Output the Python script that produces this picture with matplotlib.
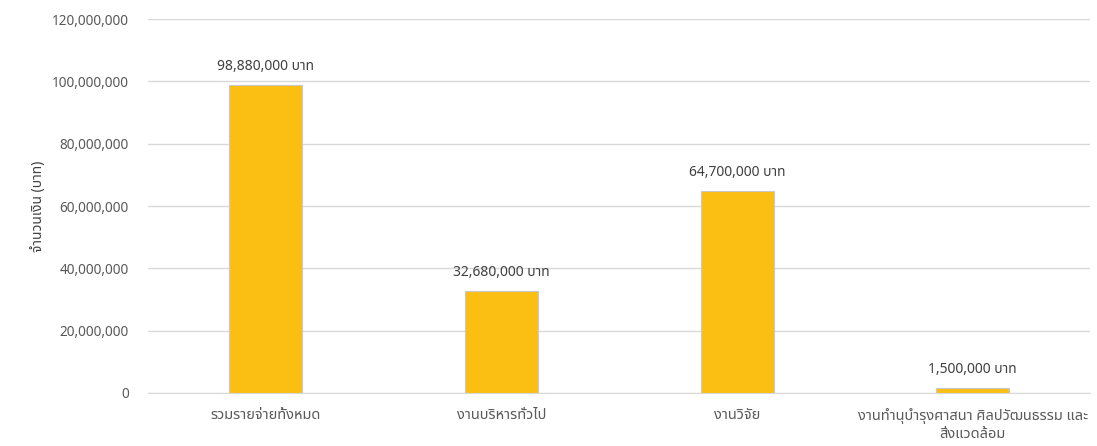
import matplotlib
matplotlib.use("Agg")
import matplotlib.pyplot as plt
from matplotlib import font_manager
from matplotlib.ft2font import FT2Font
from matplotlib.ticker import FuncFormatter

categories = ["รวมรายจ่ายทั้งหมด", "งานบริหารทั่วไป", "งานวิจัย",
              "งานทำนุบำรุงศาสนา ศิลปวัฒนธรรม และ\nสิ่งแวดล้อม"]
amounts = [98880000, 32680000, 64700000, 1500000]
y_ticks = [0, 20000000, 40000000, 60000000, 80000000, 100000000, 120000000]
y_label = "จำนวนเงิน (บาท)"
unit = "บาท"


# หาฟอนต์ที่มีอักษรไทย
def find_thai_font():
    preferred = ["Noto Sans Thai", "Noto Sans Thai UI", "Loma", "Garuda",
                 "Tlwg Typo", "Sarabun", "Kinnari", "Norasi"]
    found = {}
    for f in font_manager.fontManager.ttflist:
        try:
            cmap = FT2Font(f.fname).get_charmap()
        except Exception:
            continue
        if 0x0E1A in cmap and 0x0E32 in cmap:
            found.setdefault(f.name, f.fname)
    for name in preferred:
        if name in found:
            return name
    if found:
        return sorted(found)[0]
    return None


thai = find_thai_font()
families = [thai, "DejaVu Sans"] if thai else ["DejaVu Sans"]
plt.rcParams["font.family"] = families

fig = plt.figure(figsize=(10.97, 4.46), dpi=100)
ax = fig.add_axes([0.135, 0.119, 0.859, 0.838])

x = range(len(categories))
bars = ax.bar(x, amounts, width=0.31, color="#FBBF14",
              edgecolor="#C8C8C8", linewidth=0.8, zorder=3)

for xi, v in zip(x, amounts):
    ax.annotate(f"{v:,.0f} {unit}", (xi, v), xytext=(0, 8),
                textcoords="offset points", ha="center", va="bottom",
                fontsize=10, color="#404040")

ax.set_xlim(-0.5, len(categories) - 0.5)
ax.set_ylim(0, 120000000)
ax.set_yticks(y_ticks)
ax.yaxis.set_major_formatter(FuncFormatter(lambda v, p: f"{v:,.0f}"))
ax.set_xticks(list(x))
ax.set_xticklabels(categories, fontsize=10.5, color="#404040", linespacing=1.25)

ax.grid(axis="y", color="#D9D9D9", linewidth=1, zorder=0)
for s in ["top", "right", "left"]:
    ax.spines[s].set_visible(False)
ax.spines["bottom"].set_color("#D9D9D9")
ax.tick_params(axis="both", length=0, colors="#595959")
ax.tick_params(axis="x", pad=11)
ax.tick_params(axis="y", pad=14, labelsize=9.8)

ax.set_ylabel(y_label, fontsize=10, color="#404040")
ax.yaxis.set_label_coords(-0.108, 0.5)

fig.savefig("out.png", dpi=100)
